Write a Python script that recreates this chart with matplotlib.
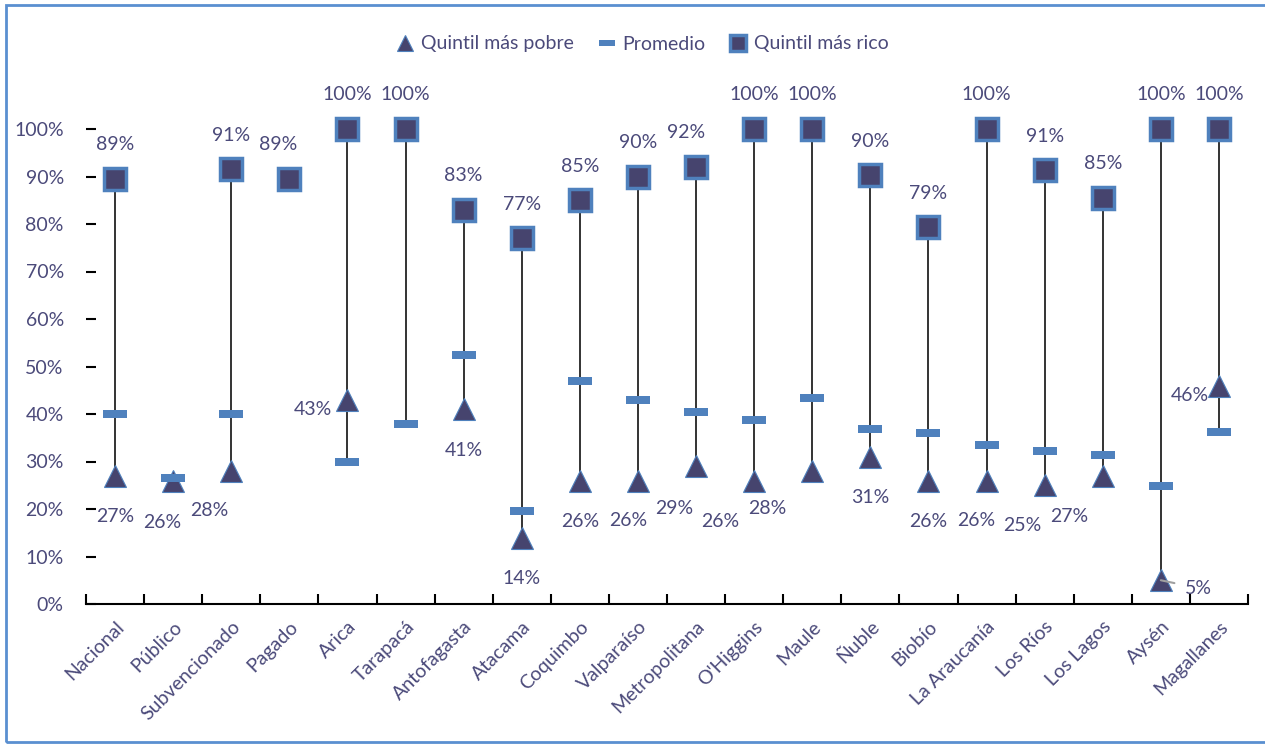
import numpy as np
import matplotlib
matplotlib.use("Agg")
import matplotlib.pyplot as plt
from matplotlib.patches import Rectangle

plt.rcParams['font.family'] = ['Lato', 'DejaVu Sans']

categorias = ['Nacional', 'Público', 'Subvencionado', 'Pagado', 'Arica', 'Tarapacá',
              'Antofagasta', 'Atacama', 'Coquimbo', 'Valparaíso', 'Metropolitana',
              "O'Higgins", 'Maule', 'Ñuble', 'Biobío', 'La Araucanía', 'Los Ríos',
              'Los Lagos', 'Aysén', 'Magallanes']
pobre = [27, 26, 28, None, 43, None, 41, 14, 26, 26, 29, 26, 28, 31, 26, 26, 25, 27, 5, 46]
promedio = [40, 26.5, 40, None, 30, 38, 52.5, 19.5, 47, 43, 40.5, 38.7, 43.3, 36.8, 36, 33.5, 32.2, 31.4, 24.8, 36.3]
rico = [89.5, None, 91.5, 89.5, 100, 100, 83, 77, 85, 90, 92, 100, 100, 90.3, 79.3, 100, 91.3, 85.5, 100, 100]
rico_lbl = [89, None, 91, 89, 100, 100, 83, 77, 85, 90, 92, 100, 100, 90, 79, 100, 91, 85, 100, 100]

# label offsets in pixels (dx, dy)
off_rico = {3: (-11, 34), 10: (-10, 34)}
off_pobre = {1: (-11, -42), 2: (-22, -40), 4: (-35, -10), 9: (-10, -40), 10: (-22, -42),
             11: (-34, -41), 12: (-45, -38), 15: (-10, -40), 16: (-22, -40),
             17: (-34, -41), 18: (38, -8), 19: (-29, -10)}

txt = '#4b4a7a'
dark = '#46446e'
blue = '#4f81bd'

fig = plt.figure(figsize=(12.65, 7.45), dpi=100)
ax = fig.add_axes([86 / 1265, 1 - 604 / 745, (1248 - 86) / 1265, (604 - 129) / 745])
x = np.arange(len(categorias))

# high-low lines
for i in x:
    vals = [v for v in (pobre[i], promedio[i], rico[i]) if v is not None]
    if max(vals) - min(vals) > 1:
        ax.plot([i, i], [min(vals), max(vals)], color='#111111', lw=1.2, zorder=1, clip_on=False)

def arr(a):
    return np.array([np.nan if v is None else v for v in a], dtype=float)

bar = [(-1.5, -0.5), (1.5, -0.5), (1.5, 0.5), (-1.5, 0.5), (-1.5, -0.5)]

ax.plot(x, arr(pobre), ls='none', marker='^', ms=15.5, mfc=dark, mec=blue, mew=0.8,
        zorder=3, clip_on=False, label='Quintil más pobre')
ax.plot(x, arr(promedio), ls='none', marker=bar, ms=17, mfc=blue, mec=blue, mew=0,
        zorder=4, clip_on=False, label='Promedio')
ax.plot(x, arr(rico), ls='none', marker='s', ms=15.5, mfc=dark, mec=blue, mew=2.5,
        zorder=3, clip_on=False, label='Quintil más rico')

for i in x:
    if rico[i] is not None:
        dx, dy = off_rico.get(i, (0, 34))
        ax.annotate(f'{rico_lbl[i]}%', (i, rico[i]), xytext=(dx * 0.72, dy * 0.72),
                    textcoords='offset points', ha='center', va='center',
                    fontsize=14, color=txt, annotation_clip=False)
    if pobre[i] is not None:
        dx, dy = off_pobre.get(i, (0, -41))
        ap = None
        if i == 18:
            ap = dict(arrowstyle='-', color='#a0a0a0', lw=1.5, shrinkA=6, shrinkB=0)
        ax.annotate(f'{pobre[i]}%', (i, pobre[i]), xytext=(dx * 0.72, dy * 0.72),
                    textcoords='offset points', ha='center', va='center',
                    fontsize=14, color=txt, annotation_clip=False, arrowprops=ap,
                    zorder=6)

ax.set_xlim(-0.5, len(categorias) - 0.5)
ax.set_ylim(0, 100)
ax.set_yticks(np.arange(0, 101, 10))
ax.set_yticklabels([f'{v}%' for v in range(0, 101, 10)])
ax.set_xticks(x)
ax.set_xticklabels(categorias, rotation=45, ha='right', rotation_mode='anchor')
ax.set_xticks(np.arange(-0.5, len(categorias), 1), minor=True)
ax.tick_params(axis='x', which='major', length=0, pad=10, labelsize=14, labelcolor=txt)
ax.tick_params(axis='x', which='minor', direction='in', length=7, width=1.5, color='black')
ax.tick_params(axis='y', direction='in', length=7, width=1.5, color='black', pad=16,
               labelsize=14, labelcolor=txt)
for s in ('left', 'right', 'top'):
    ax.spines[s].set_visible(False)
ax.spines['bottom'].set_linewidth(1.5)

leg = fig.legend(loc='center', bbox_to_anchor=(642 / 1265, 1 - 44 / 745), ncol=3,
                 frameon=False, fontsize=14, handlelength=1.0, handletextpad=0.3,
                 columnspacing=1.2, labelcolor=txt)
for h in leg.legend_handles:
    h.set_markersize(11)

fig.add_artist(Rectangle((6 / 1265, 3 / 745), 1.2, 1 - 8 / 745, transform=fig.transFigure,
                         fill=False, edgecolor='#5a8fd0', lw=2))

fig.savefig('out.png', dpi=100)
